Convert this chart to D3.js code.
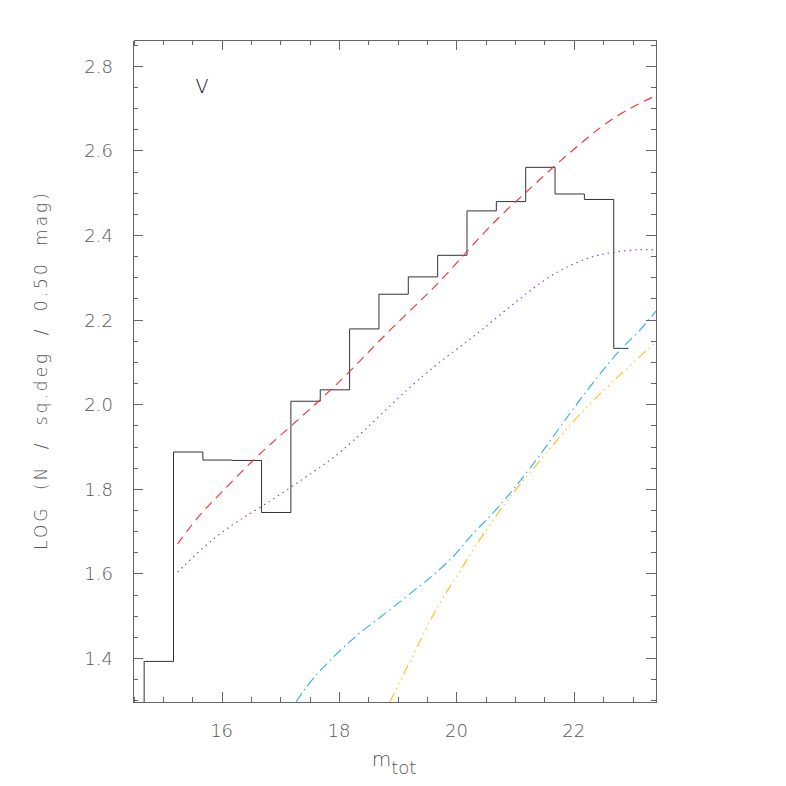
<!DOCTYPE html>
<html lang="en">
<head>
  <meta charset="UTF-8" />
  <title>V counts</title>
  <style>
    body { margin: 0; padding: 0; background: #fff; }
    svg { display: block; }
    text { font-family: "DejaVu Sans", sans-serif; fill: #555; }
    .axis line, .axis path { stroke: #666; shape-rendering: crispEdges; }
  </style>
</head>
<body>
<svg id="chart" width="786" height="786"></svg>

<script src="https://d3js.org/d3.v7.min.js"></script>
<script>
  // histogram: bin centres (mag) and log counts
  const binCenters = [14.93, 15.43, 15.93, 16.43, 16.93, 17.43, 17.93, 18.43, 18.93,
                      19.43, 19.93, 20.43, 20.93, 21.43, 21.93, 22.43, 22.93];
  const binValues  = [1.392, 1.887, 1.868, 1.867, 1.744, 2.007, 2.034, 2.178, 2.260,
                      2.301, 2.352, 2.457, 2.479, 2.560, 2.497, 2.484, 2.132];

  // model curves
  const redX = [15.25, 15.62, 15.96, 16.53, 16.99, 17.52, 18.18, 18.85, 19.68, 20.18,
                20.72, 21.18, 21.68, 22.18, 22.67, 23.3, 23.4];
  const redY = [1.670, 1.739, 1.786, 1.868, 1.925, 1.990, 2.075, 2.175, 2.282, 2.362,
                2.443, 2.500, 2.565, 2.624, 2.679, 2.724, 2.729];

  const purpleX = [15.25, 15.96, 16.70, 17.66, 18.12, 19.25, 20.04, 20.38, 21.18, 21.73,
                   22.30, 22.67, 23.16, 23.4];
  const purpleY = [1.603, 1.699, 1.758, 1.849, 1.894, 2.050, 2.134, 2.169, 2.262, 2.317,
                   2.350, 2.360, 2.367, 2.364];

  const blueX = [17.27, 17.55, 18.0, 18.34, 18.80, 19.25, 19.59, 19.99, 20.27, 20.67,
                 21.35, 21.97, 22.54, 22.82, 23.11, 23.4];
  const blueY = [1.297, 1.353, 1.416, 1.459, 1.506, 1.557, 1.593, 1.644, 1.695, 1.746,
                 1.864, 1.987, 2.089, 2.134, 2.171, 2.220];

  const yellowX = [18.87, 19.14, 19.42, 19.70, 20.02, 20.38, 20.95, 21.35, 21.97, 22.54,
                   23.11, 23.4];
  const yellowY = [1.297, 1.373, 1.451, 1.530, 1.595, 1.679, 1.790, 1.854, 1.959, 2.038,
                   2.111, 2.147];

  const xTicks = [16, 18, 20, 22];
  const yTicks = [1.4, 1.6, 1.8, 2.0, 2.2, 2.4, 2.6, 2.8];

  const svg = d3.select("#chart");
  const pLeft = 133, pRight = 656, pTop = 40, pBottom = 702;

  const x = d3.scaleLinear().domain([14.49, 23.4]).range([pLeft, pRight]);
  const y = d3.scaleLinear().domain([1.296, 2.861]).range([pBottom, pTop]);

  svg.append("defs").append("clipPath").attr("id", "plot")
    .append("rect").attr("x", pLeft).attr("y", pTop)
    .attr("width", pRight - pLeft).attr("height", pBottom - pTop);

  const g = svg.append("g").attr("clip-path", "url(#plot)");

  // histogram step path (IDL psym=10 look: last bin is half width)
  const half = 0.25;
  const pts = [[binCenters[0] - half, 1.0]];
  binCenters.forEach((c, i) => {
    pts.push([c - half, binValues[i]]);
    pts.push([i === binCenters.length - 1 ? c : c + half, binValues[i]]);
  });
  g.append("path")
    .attr("d", d3.line().x(d => x(d[0])).y(d => y(d[1]))(pts))
    .attr("fill", "none").attr("stroke", "#333").attr("stroke-width", 1);

  const curve = d3.line().x(d => x(d[0])).y(d => y(d[1])).curve(d3.curveBasis);
  function drawCurve(xs, ys, color, dash) {
    g.append("path")
      .attr("d", curve(xs.map((v, i) => [v, ys[i]])))
      .attr("fill", "none").attr("stroke", color).attr("stroke-width", 1.1)
      .attr("stroke-dasharray", dash);
  }
  drawCurve(redX, redY, "#ff2a2a", "9,6");
  drawCurve(purpleX, purpleY, "#7c3ad8", "1.5,4");
  drawCurve(blueX, blueY, "#2eaaf5", "10,4,1.5,4");
  drawCurve(yellowX, yellowY, "#ffbe1a", "10,4,1.5,4,1.5,4,1.5,4");

  // axes: ticks inward on all four sides
  const minorX = d3.range(14.5, 23.41, 0.5).filter(v => xTicks.indexOf(v) < 0);
  const minorY = d3.range(1.3, 2.86, 0.05).map(v => +v.toFixed(2))
    .filter(v => !yTicks.some(t => Math.abs(t - v) < 1e-6));

  function addAxis(maker, scale, vals, len, tx, ty) {
    svg.append("g").attr("class", "axis").attr("transform", `translate(${tx},${ty})`)
      .call(maker(scale).tickValues(vals).tickSizeInner(-len).tickSizeOuter(0).tickFormat(""));
  }
  addAxis(d3.axisBottom, x, xTicks, 10, 0, pBottom);
  addAxis(d3.axisTop, x, xTicks, 10, 0, pTop);
  addAxis(d3.axisLeft, y, yTicks, 10, pLeft, 0);
  addAxis(d3.axisRight, y, yTicks, 10, pRight, 0);
  addAxis(d3.axisBottom, x, minorX, 5, 0, pBottom);
  addAxis(d3.axisTop, x, minorX, 5, 0, pTop);
  addAxis(d3.axisLeft, y, minorY, 5, pLeft, 0);
  addAxis(d3.axisRight, y, minorY, 5, pRight, 0);

  svg.selectAll(".axis .domain").attr("stroke-width", 1.2);

  // tick labels
  svg.selectAll(".xlab").data(xTicks).enter().append("text")
    .attr("x", d => x(d)).attr("y", 737)
    .attr("text-anchor", "middle").attr("font-size", 18).attr("font-weight", 300)
    .text(d => d);
  svg.selectAll(".ylab").data(yTicks).enter().append("text")
    .attr("x", 113).attr("y", d => y(d) + 7)
    .attr("text-anchor", "end").attr("font-size", 18).attr("font-weight", 300)
    .text(d => d.toFixed(1));

  // axis titles
  const xt = svg.append("text").attr("x", 394).attr("y", 766)
    .attr("text-anchor", "middle").attr("font-size", 20).attr("font-weight", 300);
  xt.append("tspan").text("m");
  xt.append("tspan").attr("dy", 8).attr("font-size", 18).text("tot");

  svg.append("text")
    .attr("transform", "translate(47,370) rotate(-90)")
    .attr("text-anchor", "middle").attr("font-size", 17).attr("font-weight", 300)
    .attr("letter-spacing", 3).attr("word-spacing", 7)
    .text("LOG (N / sq.deg / 0.50 mag)");

  svg.append("text").attr("x", 202).attr("y", 93)
    .attr("text-anchor", "middle").attr("font-size", 19).attr("font-weight", 300)
    .style("fill", "#111").text("V");
</script>
</body>
</html>
